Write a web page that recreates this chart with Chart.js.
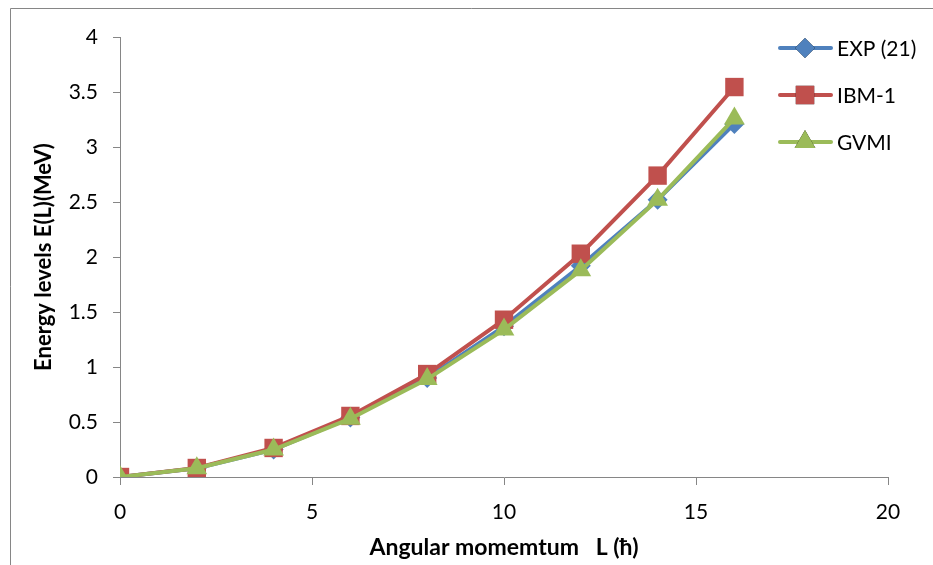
<!DOCTYPE html>
<html>
<head>
<meta charset="utf-8">
<script src="https://cdn.jsdelivr.net/npm/chart.js@4"></script>
<style>
  html, body { margin: 0; padding: 0; background: #fff; }
  #wrap { width: 933px; height: 565px; position: relative; }
</style>
</head>
<body>
<div id="wrap"><canvas id="chart"></canvas></div>
<script>
const angularMomentum = [0, 2, 4, 6, 8, 10, 12, 14, 16]
const expValues = [0, 0.08, 0.25, 0.54, 0.90, 1.37, 1.92, 2.52, 3.21]
const ibmValues = [0, 0.082, 0.264, 0.555, 0.936, 1.43, 2.03, 2.74, 3.545]
const gvmiValues = [0, 0.08, 0.25, 0.53, 0.89, 1.34, 1.88, 2.52, 3.26]
const seriesNames = ['EXP (21)', 'IBM-1', 'GVMI']
const xTicks = [0, 5, 10, 15, 20]
const yTicks = [0, 0.5, 1, 1.5, 2, 2.5, 3, 3.5, 4]

const FONT = 'Lato, Calibri, "Open Sans", sans-serif'
const axisGrey = '#868686'

function toPoints (values) {
  return angularMomentum.map((l, i) => ({ x: l, y: values[i] }))
}

// outer frame of the chart
const framePlugin = {
  id: 'frame',
  beforeDraw (chart) {
    const ctx = chart.ctx
    ctx.save()
    ctx.fillStyle = '#fff'
    ctx.fillRect(0, 0, chart.width, chart.height)
    ctx.strokeStyle = axisGrey
    ctx.lineWidth = 1
    ctx.beginPath()
    ctx.moveTo(10.5, chart.height)
    ctx.lineTo(10.5, 8.5)
    ctx.lineTo(chart.width, 8.5)
    ctx.stroke()
    ctx.restore()
  }
}

// excel-like legend: line with marker in the middle
const legendPlugin = {
  id: 'sideLegend',
  afterDraw (chart) {
    const ctx = chart.ctx
    ctx.save()
    chart.data.datasets.forEach((ds, i) => {
      const y = 48 + i * 47
      ctx.strokeStyle = ds.borderColor
      ctx.lineWidth = 4
      ctx.lineCap = 'round'
      ctx.beginPath()
      ctx.moveTo(780, y)
      ctx.lineTo(831, y)
      ctx.stroke()
      Chart.helpers.drawPoint(ctx, {
        pointStyle: ds.pointStyle,
        radius: ds.pointRadius,
        rotation: 0,
        borderWidth: 0
      }, 805, y)
      ctx.fillStyle = ds.pointBackgroundColor
      ctx.fill()
      ctx.fillStyle = '#000'
      ctx.font = '21px ' + FONT
      ctx.textBaseline = 'middle'
      ctx.fillText(seriesNames[i], 837, y + 1)
    })
    ctx.restore()
  }
}

const chart = new Chart(document.querySelector('#chart'), {
  type: 'line',
  data: {
    datasets: [{
      label: seriesNames[0],
      data: toPoints(expValues),
      borderColor: '#4F81BD',
      backgroundColor: '#4F81BD',
      pointBackgroundColor: '#4F81BD',
      pointBorderWidth: 0,
      pointStyle: 'rectRot',
      pointRadius: 10,
      borderWidth: 4,
      order: 3
    }, {
      label: seriesNames[1],
      data: toPoints(ibmValues),
      borderColor: '#C0504D',
      backgroundColor: '#C0504D',
      pointBackgroundColor: '#C0504D',
      pointBorderWidth: 0,
      pointStyle: 'rect',
      pointRadius: 13,
      borderWidth: 4,
      order: 2
    }, {
      label: seriesNames[2],
      data: toPoints(gvmiValues),
      borderColor: '#9BBB59',
      backgroundColor: '#9BBB59',
      pointBackgroundColor: '#9BBB59',
      pointBorderWidth: 0,
      pointStyle: 'triangle',
      pointRadius: 12,
      borderWidth: 4,
      order: 1
    }]
  },
  options: {
    responsive: true,
    maintainAspectRatio: false,
    animation: false,
    layout: { padding: { left: 0, right: 45, top: 37, bottom: 0 } },
    plugins: {
      legend: { display: false },
      tooltip: { enabled: false }
    },
    elements: { line: { tension: 0 } },
    scales: {
      x: {
        type: 'linear',
        min: 0,
        max: 20,
        afterFit (scale) { scale.height = 88 },
        afterBuildTicks (scale) { scale.ticks = xTicks.map(v => ({ value: v })) },
        grid: { drawOnChartArea: false, drawTicks: true, tickLength: 8, color: axisGrey },
        border: { color: axisGrey, width: 1 },
        ticks: { color: '#000', padding: 15, font: { family: FONT, size: 21 } },
        title: {
          display: true,
          text: 'Angular momemtum   L (ħ)',
          color: '#000',
          font: { family: FONT, size: 23, weight: 'bold' },
          padding: { top: 0, bottom: 4 }
        }
      },
      y: {
        min: 0,
        max: 4,
        afterFit (scale) { scale.width = 120 },
        afterBuildTicks (scale) { scale.ticks = yTicks.map(v => ({ value: v })) },
        grid: { drawOnChartArea: false, drawTicks: true, tickLength: 7, color: axisGrey },
        border: { color: axisGrey, width: 1 },
        ticks: {
          color: '#000',
          padding: 15,
          font: { family: FONT, size: 21 },
          callback: v => String(v)
        },
        title: {
          display: true,
          text: 'Energy levels E(L)(MeV)',
          color: '#000',
          font: { family: FONT, size: 22, weight: 'bold' },
          padding: { top: 31, bottom: 0 }
        }
      }
    }
  },
  plugins: [framePlugin, legendPlugin]
})
</script>
</body>
</html>
